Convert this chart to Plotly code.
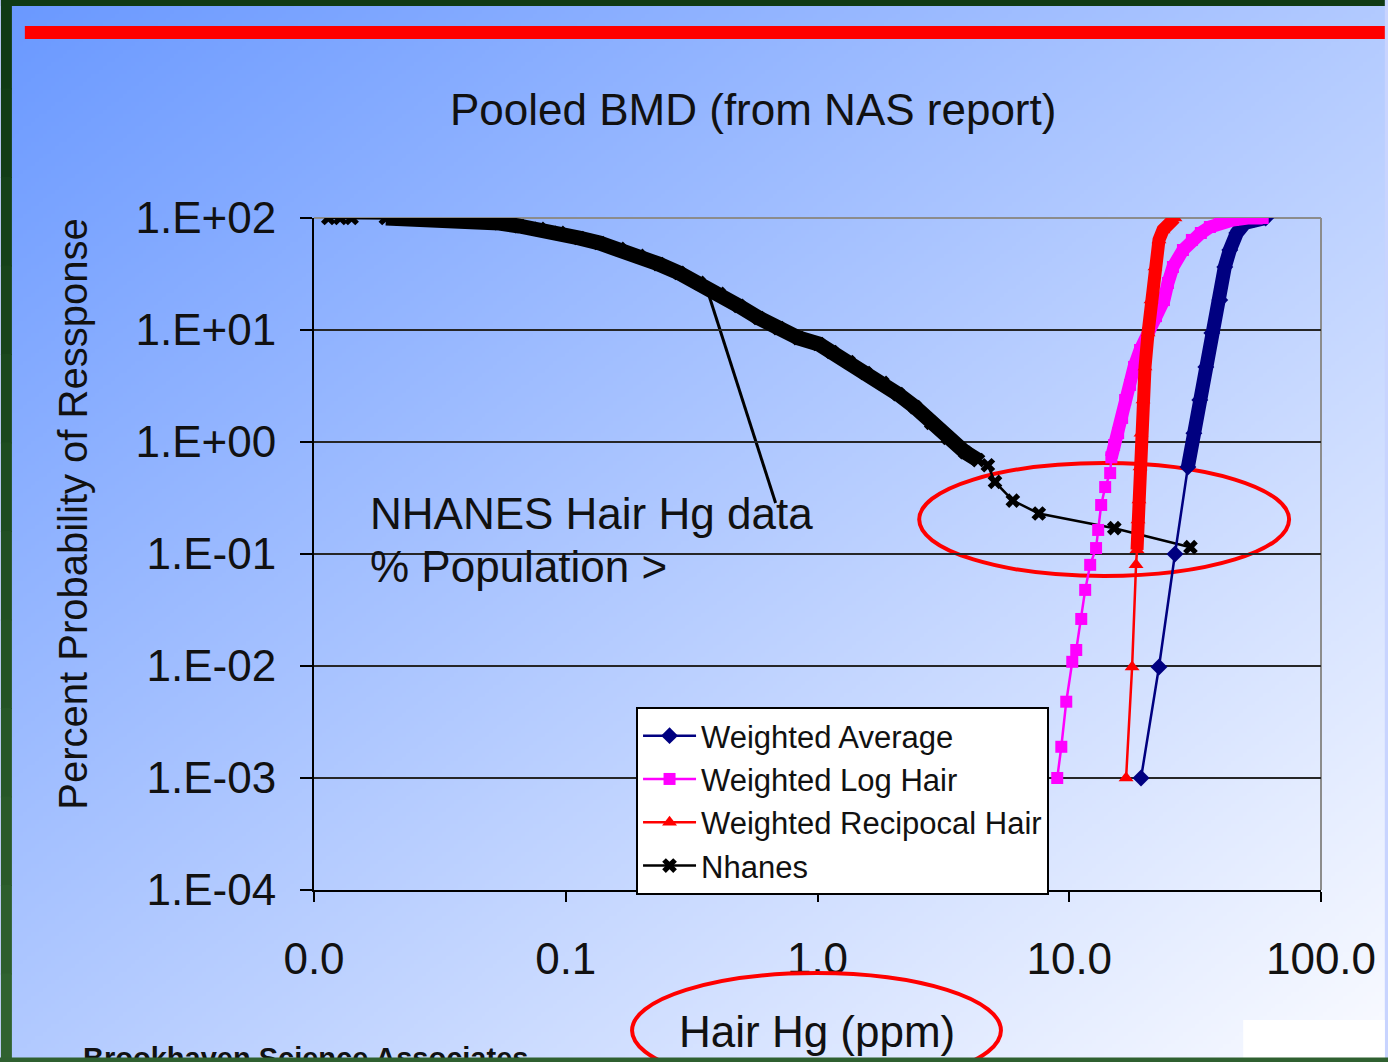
import base64
import struct
import zlib
import numpy as np
import plotly.graph_objects as go

# ---------------- data ----------------
nh_x = [0.0114, 0.0127, 0.0141, 0.0193, 0.0219, 0.0263, 0.0316, 0.0379, 0.0454, 0.0545,
        0.0654, 0.0785, 0.0942, 0.113, 0.136, 0.163, 0.195, 0.234, 0.282, 0.338,
        0.406, 0.487, 0.584, 0.701, 0.841, 1.01, 1.14, 1.33, 1.55, 1.81,
        2.09, 2.44, 2.83, 3.30, 3.86, 4.34, 4.75, 5.07, 5.97, 7.57, 15.1, 30.3]
nh_y = [100, 100, 100, 100, 99, 98, 98, 96, 94, 90,
        84.8, 79.8, 73.5, 66.3, 59.8, 52.9, 45.8, 38.8, 32.3, 26.3,
        21.0, 16.4, 12.8, 10.4, 8.48, 7.50, 6.36, 5.18, 4.13, 3.37,
        2.68, 2.05, 1.48, 1.09, 0.81, 0.69, 0.62, 0.44, 0.30, 0.23, 0.17, 0.115]

wa_x = [19.28, 22.72, 26.3, 29.6, 31.26, 33.0, 34.88, 36.84, 39.63, 41.48, 43.42, 46.28, 49.77, 54.5, 60.3]
wa_y = [0.001, 0.0098, 0.1, 0.598, 1.20, 2.37, 4.68, 9.40, 18.5, 36.5, 51.8, 73.5, 90.2, 98, 100]

lh_x = [8.96, 9.30, 9.73, 10.28, 10.66, 11.16, 11.57, 12.11, 12.78, 13.03,
        13.39, 13.89, 14.54, 14.7, 15.07, 15.64, 16.22, 16.67, 17.44, 18.09,
        19.11, 20.56, 22.11, 23.78, 24.66, 25.82, 28.29, 30.7, 33.33, 36.2,
        39.63, 44.6, 51.16, 58.67]
lh_y = [0.001, 0.0019, 0.0048, 0.0109, 0.0139, 0.0263, 0.0478, 0.080, 0.113, 0.164,
        0.274, 0.396, 0.528, 0.73, 0.94, 1.20, 1.64, 2.37, 3.23, 4.68,
        6.63, 9.40, 13.3, 18.5, 26.3, 36.5, 51.8, 63.7, 73.5, 83.1,
        90.2, 96.0, 100, 100]

rh_x = [16.82, 17.77, 18.42, 18.59, 18.76, 18.93, 19.11, 19.28, 19.65, 20.0,
        20.56, 21.13, 21.91, 22.72, 23.57, 24.66, 26.3]
rh_y = [0.001, 0.0098, 0.080, 0.109, 0.201, 0.303, 0.598, 1.20, 2.37, 4.68,
        9.40, 18.5, 36.5, 63.7, 78.2, 90.2, 100]

x_tickvals = [0.01, 0.1, 1, 10, 100]
x_ticktext = ["0.0", "0.1", "1.0", "10.0", "100.0"]
y_tickvals = [1e-4, 1e-3, 1e-2, 1e-1, 1e0, 1e1, 1e2]
y_ticktext = ["1.E-04", "1.E-03", "1.E-02", "1.E-01", "1.E+00", "1.E+01", "1.E+02"]

# ---------------- layout geometry ----------------
W, H = 1388, 1062
L, R, T, B = 314, 1324, 218, 890
FONT = "Liberation Sans, Arial, sans-serif"


def px(x):
    return (x - L) / (R - L)


def py(y):
    return (B - y) / (B - T)


# ---------------- background gradient image ----------------
def png_data_uri(arr):
    h, w, _ = arr.shape
    raw = b"".join(b"\x00" + arr[i].tobytes() for i in range(h))

    def chunk(tag, data):
        return (struct.pack(">I", len(data)) + tag + data
                + struct.pack(">I", zlib.crc32(tag + data) & 0xFFFFFFFF))

    png = (b"\x89PNG\r\n\x1a\n"
           + chunk(b"IHDR", struct.pack(">IIBBBBB", w, h, 8, 2, 0, 0, 0))
           + chunk(b"IDAT", zlib.compress(raw, 9))
           + chunk(b"IEND", b""))
    return "data:image/png;base64," + base64.b64encode(png).decode()


gw, gh = 347, 266
gx = np.linspace(0, 1, gw)
gy = np.linspace(0, 1, gh)
tt = 0.5 * gx[None, :] + 0.5 * gy[:, None]
c0 = np.array([105, 152, 255], dtype=float)
c1 = np.array([250, 251, 255], dtype=float)
bg = np.clip(c0 + (c1 - c0) * tt[..., None], 0, 255).round().astype(np.uint8)
bg_uri = png_data_uri(bg)

fig = go.Figure()

# ---------------- traces ----------------
NAVY, MAG, RED = "#000080", "#ff00ff", "#ff0000"

# Nhanes
fig.add_trace(go.Scatter(x=nh_x[3:36], y=nh_y[3:36], mode="lines",
                         line=dict(color="black", width=15), showlegend=False, hoverinfo="skip"))
fig.add_trace(go.Scatter(x=nh_x, y=nh_y, mode="lines+markers", name="Nhanes", legendrank=4,
                         line=dict(color="black", width=2.5),
                         marker=dict(symbol="x", size=13, color="black")))
# Weighted Average
fig.add_trace(go.Scatter(x=wa_x[3:], y=wa_y[3:], mode="lines",
                         line=dict(color=NAVY, width=14), showlegend=False, hoverinfo="skip"))
fig.add_trace(go.Scatter(x=wa_x, y=wa_y, mode="lines+markers", name="Weighted Average", legendrank=1,
                         line=dict(color=NAVY, width=2.5),
                         marker=dict(symbol="diamond", size=13, color=NAVY)))
# Weighted Log Hair
fig.add_trace(go.Scatter(x=lh_x[13:], y=lh_y[13:], mode="lines",
                         line=dict(color=MAG, width=13), showlegend=False, hoverinfo="skip"))
fig.add_trace(go.Scatter(x=lh_x, y=lh_y, mode="lines+markers", name="Weighted Log Hair", legendrank=2,
                         line=dict(color=MAG, width=2.5),
                         marker=dict(symbol="square", size=12, color=MAG)))
# Weighted Recipocal Hair
fig.add_trace(go.Scatter(x=rh_x[3:], y=rh_y[3:], mode="lines",
                         line=dict(color=RED, width=13), showlegend=False, hoverinfo="skip"))
fig.add_trace(go.Scatter(x=rh_x, y=rh_y, mode="lines+markers", name="Weighted Recipocal Hair", legendrank=3,
                         line=dict(color=RED, width=2.5),
                         marker=dict(symbol="triangle-up", size=13, color=RED)))

# ---------------- shapes ----------------
shapes = []
# green slide frame (left, top)
seg = 12
for i in range(seg):
    f = i / (seg - 1)
    col = "rgb(%d,%d,%d)" % (16 + (48 - 16) * f, 58 + (98 - 58) * f, 20 + (48 - 20) * f)
    shapes.append(dict(type="rect", xref="paper", yref="paper", layer="below",
                       x0=px(0), x1=px(11), y0=py(H * i / seg), y1=py(H * (i + 1) / seg + 1),
                       fillcolor=col, line=dict(width=0)))
shapes.append(dict(type="rect", xref="paper", yref="paper", layer="below",
                   x0=px(0), x1=px(W), y0=py(0), y1=py(6),
                   fillcolor="rgb(16,58,20)", line=dict(width=0)))
# red header bar
shapes.append(dict(type="rect", xref="paper", yref="paper", layer="below",
                   x0=px(24), x1=px(W), y0=py(26), y1=py(39),
                   fillcolor="#ff0000", line=dict(width=0)))
# white box bottom right
shapes.append(dict(type="rect", xref="paper", yref="paper", layer="below",
                   x0=px(1246), x1=px(W), y0=py(1020), y1=py(1058),
                   fillcolor="white", line=dict(width=0)))
# plot area border (top/right, grey)
shapes.append(dict(type="line", xref="paper", yref="paper", layer="between",
                   x0=0, x1=1, y0=1, y1=1, line=dict(color="#8c8c8c", width=2)))
shapes.append(dict(type="line", xref="paper", yref="paper", layer="between",
                   x0=1, x1=1, y0=0, y1=1, line=dict(color="#8c8c8c", width=2)))
# leader line of the NHANES label
shapes.append(dict(type="line", xref="paper", yref="paper", layer="between",
                   x0=px(710), y0=py(295), x1=px(777), y1=py(503),
                   line=dict(color="black", width=3)))
# red highlight ellipses
shapes.append(dict(type="circle", xref="paper", yref="paper", layer="between",
                   x0=px(921), x1=px(1292), y0=py(463), y1=py(576),
                   line=dict(color="#ff0000", width=4)))
shapes.append(dict(type="circle", xref="paper", yref="paper", layer="above",
                   x0=px(633), x1=px(1003), y0=py(973), y1=py(1088),
                   line=dict(color="#ff0000", width=4)))

# ---------------- annotations ----------------
ann = []
ann.append(dict(text="Pooled BMD (from NAS report)", xref="paper", yref="paper",
                x=px(754), y=py(110), xanchor="center", yanchor="middle", showarrow=False,
                font=dict(family=FONT, size=44, color="#111111")))
ann.append(dict(text="Hair Hg (ppm)", xref="paper", yref="paper",
                x=px(818), y=py(1031), xanchor="center", yanchor="middle", showarrow=False,
                font=dict(family=FONT, size=44, color="#111111")))
ann.append(dict(text="Percent Probability of Ressponse", xref="paper", yref="paper",
                x=px(72), y=py(514), xanchor="center", yanchor="middle", showarrow=False,
                textangle=-90, font=dict(family=FONT, size=40, color="#111111")))
ann.append(dict(text="NHANES Hair Hg data", xref="paper", yref="paper",
                x=px(368), y=py(513), xanchor="left", yanchor="middle", showarrow=False,
                font=dict(family=FONT, size=44, color="#111111")))
ann.append(dict(text="% Population >", xref="paper", yref="paper",
                x=px(368), y=py(566), xanchor="left", yanchor="middle", showarrow=False,
                font=dict(family=FONT, size=44, color="#111111")))
ann.append(dict(text="<b>Brookhaven Science Associates</b>", xref="paper", yref="paper",
                x=px(80), y=py(1058), xanchor="left", yanchor="middle", showarrow=False,
                font=dict(family=FONT, size=29, color="#111111")))
ann.append(dict(text=" ", xref="paper", yref="paper", x=px(W / 2), y=py(1060),
                xanchor="center", yanchor="middle", showarrow=False,
                width=W + 4, height=4, borderpad=0, bgcolor="rgb(47,96,48)",
                font=dict(size=2)))

axis_font = dict(family=FONT, size=44, color="#111111")
fig.update_layout(
    width=W, height=H,
    margin=dict(l=L, r=W - R, t=T, b=H - B, pad=0),
    paper_bgcolor="rgb(200,212,255)",
    plot_bgcolor="rgba(0,0,0,0)",
    images=[dict(source=bg_uri, xref="paper", yref="paper", x=px(0), y=py(0),
                 sizex=W / (R - L), sizey=H / (B - T), xanchor="left", yanchor="top",
                 sizing="stretch", layer="below")],
    shapes=shapes,
    annotations=ann,
    xaxis=dict(type="log", range=[-2, 2], tickvals=x_tickvals, ticktext=x_ticktext,
               showgrid=False, zeroline=False, showline=True, linecolor="black", linewidth=2,
               ticks="outside", ticklen=10, tickwidth=2, tickcolor="black",
               tickfont=axis_font, ticklabelstandoff=19),
    yaxis=dict(type="log", range=[-4, 2], tickvals=y_tickvals, ticktext=y_ticktext,
               showgrid=True, gridcolor="#262626", gridwidth=2, zeroline=False,
               showline=True, linecolor="black", linewidth=2,
               ticks="outside", ticklen=12, tickwidth=2, tickcolor="black",
               tickfont=axis_font, ticklabelstandoff=15),
    legend=dict(x=px(637), y=py(707), xanchor="left", yanchor="top",
                bgcolor="white", bordercolor="black", borderwidth=2,
                font=dict(family=FONT, size=31, color="#111111"),
                itemwidth=53, tracegroupgap=0),
    showlegend=True,
)

fig.write_html("out.html", config={"displayModeBar": False},
               post_script="document.body.style.margin='0';document.body.style.padding='0';"
                           "document.body.style.overflow='hidden';")
